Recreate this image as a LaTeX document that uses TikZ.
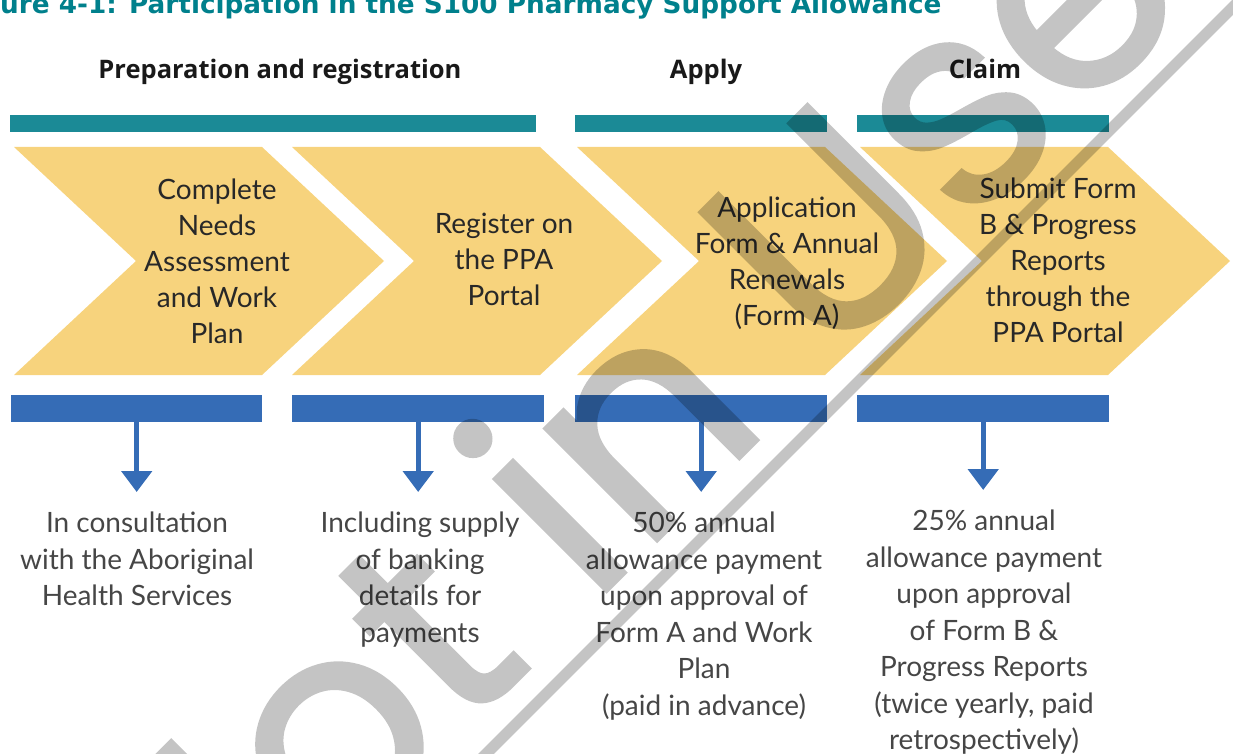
\documentclass[tikz,border=0pt]{standalone}
\usepackage{fontspec}
\setmainfont{Lato}
\newfontfamily\headfont{Open Sans}
\newfontfamily\titlefont{DejaVu Sans}
\newfontfamily\wmfont[FakeBold=1.2]{Poppins}
\usepackage{tikz}
\usetikzlibrary{arrows.meta}
\definecolor{cteal}  {RGB}{27,138,150}
\definecolor{ctitle} {RGB}{0,128,140}
\definecolor{cgold}  {RGB}{247,211,125}
\definecolor{cblue}  {RGB}{53,108,182}
\definecolor{cink}   {RGB}{40,40,40}
\definecolor{cgrey}  {RGB}{70,70,70}
\tikzset{
  phase/.style={font=\headfont\bfseries\fontsize{25.5}{30}\selectfont,
                text=black!90, anchor=base, inner sep=0pt},
  tealbar/.style={rectangle, fill=cteal, minimum height=17pt,
                  inner sep=0pt, anchor=north west},
  bluebar/.style={rectangle, fill=cblue, minimum height=27pt,
                  inner sep=0pt, anchor=north west},
  chev/.style={fill=cgold},
  steptxt/.style={font=\fontsize{28}{36}\selectfont, text=cink,
                  align=center, inner sep=0pt},
  note/.style={font=\fontsize{28}{36.5}\selectfont, text=cgrey,
               align=center, anchor=north, inner sep=0pt},
  down/.style={-{Triangle[width=30pt,length=21pt]}, line width=5pt,
               draw=cblue, shorten >=20pt},
}

\begin{document}
\begin{tikzpicture}[x=1pt, y=-1pt]
  \useasboundingbox (0,0) rectangle (1233,754);
  \clip (0,0) rectangle (1233,754);

  % ── Title ─────────────────────────────────────────────────────────────────
  \node[font=\titlefont\bfseries\fontsize{26.3}{30}\selectfont, text=ctitle,
        anchor=base west, inner sep=0pt] at (0,14) (title)
      {ure 4-1: Participation in the S100 Pharmacy Support Allowance};

  % ── Phase headers + teal bars ─────────────────────────────────────────────
  \node[phase] at (280,79) (prep)  {Preparation and registration};
  \node[phase] at (706,79) (apply) {Apply};
  \node[phase] at (985,79) (claim) {Claim};

  \node[tealbar, minimum width=526pt] at (10,115)  (tprep)  {};
  \node[tealbar, minimum width=252pt] at (575,115) (tapply) {};
  \node[tealbar, minimum width=252pt] at (857,115) (tclaim) {};

  % ── Chevrons ──────────────────────────────────────────────────────────────
  \foreach \x in {14,292,577,860}
    \fill[chev] (\x,147) -- ++(248,0) -- ++(122,114) -- ++(-122,114)
                -- ++(-248,0) -- ++(122,-114) -- cycle;

  \node[steptxt] at (217,261) (needs)
      {Complete\\Needs\\Assessment\\and Work\\Plan};
  \node[steptxt] at (504,259) (register)
      {Register on\\the PPA\\Portal};
  \node[steptxt] at (787,263) (formA)
      {Application\\Form \& Annual\\Renewals\\(Form A)};
  \node[steptxt] at (1058,260) (formB)
      {Submit Form\\B \& Progress\\Reports\\through the\\PPA Portal};

  % ── Blue bars ─────────────────────────────────────────────────────────────
  \node[bluebar, minimum width=251pt] at (11,395)  (b1) {};
  \node[bluebar, minimum width=252pt] at (292,395) (b2) {};
  \node[bluebar, minimum width=252pt] at (575,395) (b3) {};
  \node[bluebar, minimum width=252pt] at (857,395) (b4) {};

  % ── Notes ─────────────────────────────────────────────────────────────────
  \node[note] at (137,512) (n1)
      {In consultation\\with the Aboriginal\\Health Services};
  \node[note] at (420,512) (n2)
      {Including supply\\of banking\\details for\\payments};
  \node[note] at (704,512) (n3)
      {50\% annual\\allowance payment\\upon approval of\\Form A and Work\\Plan\\(paid in advance)};
  \node[note] at (984,510) (n4)
      {25\% annual\\allowance payment\\upon approval\\of Form B \&\\Progress Reports\\(twice yearly, paid\\retrospectively)};

  % ── Arrows ────────────────────────────────────────────────────────────────
  \draw[down] (b1.south) -- (b1.south |- n1.north);
  \draw[down] (b2.south) -- (b2.south |- n2.north);
  \draw[down] (b3.south) -- (b3.south |- n3.north);
  \draw[down] (b4.south) -- (b4.south |- n4.north);

  % ── Watermark ─────────────────────────────────────────────────────────────
  \begin{scope}[transparency group, opacity=0.23]
    \node[font=\wmfont\fontsize{290}{300}\selectfont, text=black,
          rotate=45, anchor=base west, inner sep=0pt] at (186,1012) (wm) {Not in Use};
    \draw[black, line width=11pt] (440,800) -- (1270,-30);
  \end{scope}
\end{tikzpicture}
\end{document}
